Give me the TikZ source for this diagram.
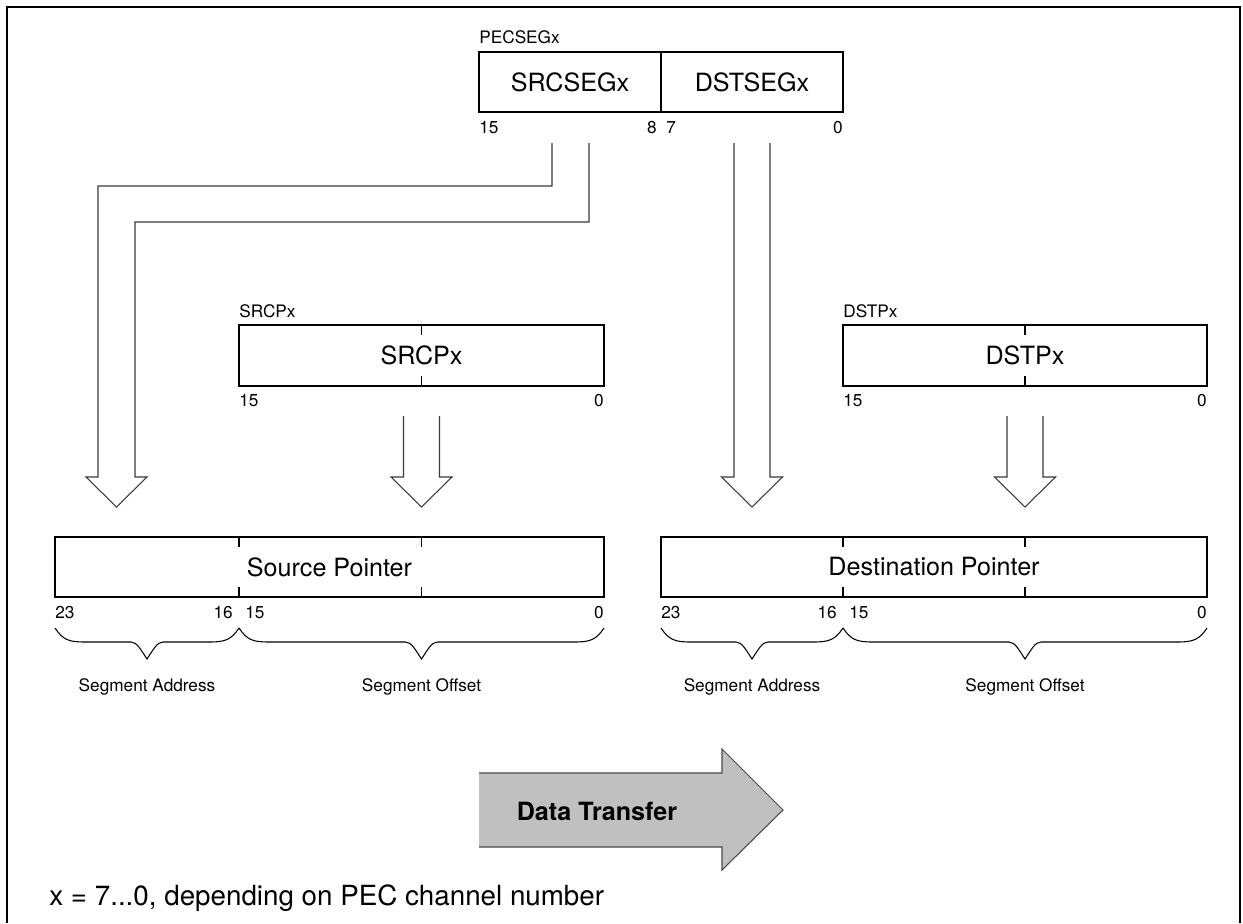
\documentclass[tikz,border=0pt]{standalone}
\usepackage{fontspec}
\setmainfont{TeX Gyre Heros}
\usetikzlibrary{calc}
\definecolor{FrameInk}{HTML}{000000}
\definecolor{ArrowInk}{HTML}{3A3A3A}
\definecolor{TransferFill}{HTML}{C0C0C0}
\definecolor{TransferInk}{HTML}{4A4A4A}

\begin{document}
\begin{tikzpicture}[x=0.02cm,y=-0.02cm,every node/.style={inner sep=0pt,text=black},reg/.style={draw=black,line width=0.7pt},tick/.style={draw=black,line width=0.7pt},bigtext/.style={font=\fontsize{14.3}{17}\selectfont},smalltext/.style={font=\fontsize{9.8}{11}\selectfont},bitnum/.style={font=\fontsize{9.8}{11}\selectfont},hollow/.style={draw=ArrowInk,line width=0.6pt,line join=miter},brace/.style={draw=black,line width=0.6pt},transfer/.style={fill=TransferFill},transferedge/.style={draw=TransferInk,line width=0.6pt,line join=miter},note/.style={font=\fontsize{15.8}{18}\selectfont}]
\useasboundingbox (0,0) rectangle (1243,923);
\draw[FrameInk,line width=1.2pt] (7,923) -- (7,7) -- (1240,7) -- (1240,923);
% PECSEGx register
\node[smalltext,anchor=west](peclab) at (479,37){PECSEGx};
\draw[reg] (479,52) rectangle (843,112); \draw[reg] (661,52) -- (661,112);
\node[bigtext](srcseg) at (570,82){SRCSEGx}; \node[bigtext](dstseg) at (752,82){DSTSEGx};
\node[bitnum,anchor=west](pb15) at (479,128){15}; \node[bitnum,anchor=east](pb8) at (657,128){8}; \node[bitnum,anchor=west](pb7) at (666,128){7}; \node[bitnum,anchor=east](pb0) at (843,128){0};
% hollow arrows
\draw[hollow] (552,143) -- (552,186) -- (98,186) -- (98,477) -- (86,477) -- (116.5,507) -- (147,477) -- (135,477) -- (135,222) -- (589,222) -- (589,143);
\foreach \cx/\ya in {421.5/416,752/143,1025/416}
  \draw[hollow] (\cx-18,\ya) -- (\cx-18,477) -- (\cx-30.5,477) -- (\cx,507) -- (\cx+30.5,477) -- (\cx+18,477) -- (\cx+18,\ya);
% SRCPx and DSTPx registers
\node[smalltext,anchor=west](srcplab) at (239,311){SRCPx}; \draw[reg] (239,325) rectangle (604,386); \draw[tick] (421.5,325) -- ++(0,10) (421.5,386) -- ++(0,-10);
\node[bigtext](srcp) at (421.5,355.5){SRCPx};
\node[bitnum,anchor=west](sp15) at (239,401){15}; \node[bitnum,anchor=east](sp0) at (604,401){0};
\node[smalltext,anchor=west](dstplab) at (843,311){DSTPx}; \draw[reg] (843,325) rectangle (1207,386); \draw[tick] (1025,325) -- ++(0,10) (1025,386) -- ++(0,-10);
\node[bigtext](dstp) at (1025,355.5){DSTPx};
\node[bitnum,anchor=west](dp15) at (843,401){15}; \node[bitnum,anchor=east](dp0) at (1207,401){0};
% 24-bit pointers
\draw[reg] (55,537) rectangle (604,597); \draw[tick] (239,537) -- ++(0,10) (239,597) -- ++(0,-10) (421.5,537) -- ++(0,10) (421.5,597) -- ++(0,-10);
\node[bigtext](srcptr) at (329.5,567){Source Pointer};
\node[bitnum,anchor=west](s23) at (55,613){23}; \node[bitnum,anchor=east](s16) at (233,613){16}; \node[bitnum,anchor=west](s15) at (245,613){15}; \node[bitnum,anchor=east](s0) at (604,613){0};
\draw[reg] (661,537) rectangle (1207,597); \draw[tick] (843,537) -- ++(0,10) (843,597) -- ++(0,-10) (1025,537) -- ++(0,10) (1025,597) -- ++(0,-10);
\node[bigtext](dstptr) at (934,567){Destination Pointer};
\node[bitnum,anchor=west](d23) at (661,613){23}; \node[bitnum,anchor=east](d16) at (837,613){16}; \node[bitnum,anchor=west](d15) at (849,613){15}; \node[bitnum,anchor=east](d0) at (1207,613){0};
% braces
\foreach \a/\m/\b in {55/147/239,239/421.5/604,661/752/843,843/1025/1207}
  \draw[brace] (\a,628) .. controls (\a+8,640) and (\a+14,642) .. (\a+30,642) -- (\m-16,642) .. controls (\m-10,642) and (\m-6,650) .. (\m,659) .. controls (\m+6,650) and (\m+10,642) .. (\m+16,642) -- (\b-30,642) .. controls (\b-14,642) and (\b-8,640) .. (\b,628);
\node[smalltext](ssa) at (147,687){Segment Address}; \node[smalltext](sso) at (421.5,687){Segment Offset};
\node[smalltext](dsa) at (752,687){Segment Address}; \node[smalltext](dso) at (1025,687){Segment Offset};
% data transfer arrow
\fill[transfer] (479,773) -- (722,773) -- (722,749) -- (783,810) -- (722,870) -- (722,847) -- (479,847) -- cycle;
\draw[transferedge] (479,773) -- (722,773) -- (722,749) -- (783,810) -- (722,870) -- (722,847) -- (479,847);
\node[font=\fontsize{14.3}{17}\selectfont\bfseries](xfer) at (597,811){Data Transfer};
\node[note,anchor=west](xnote) at (49,898){x = 7...0, depending on PEC channel number};
\end{tikzpicture}
\end{document}
